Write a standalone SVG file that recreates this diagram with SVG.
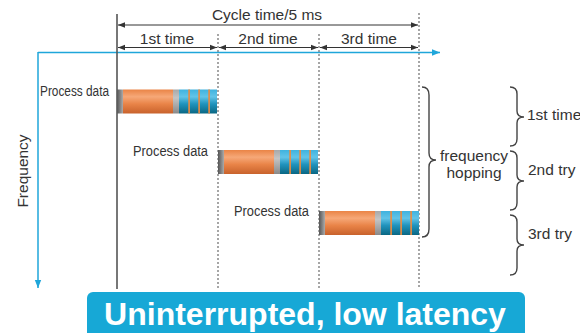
<svg xmlns="http://www.w3.org/2000/svg" width="580" height="333" viewBox="0 0 580 333">
<style>
text{font-family:"Liberation Sans",Arial,sans-serif;fill:#333;}
.lbl{font-size:15.5px;}
.pd{font-size:14px;}
.dot{stroke:#777;stroke-width:1.3;stroke-dasharray:2 2;fill:none;}
.dim{stroke:#333;stroke-width:1;fill:none;}
.axis{stroke:#1fa6da;stroke-width:1.5;fill:none;}
.brace{stroke:#444;stroke-width:1.4;fill:none;}
.stripe{fill:#f08a3c;}
</style>
<defs>
<linearGradient id="gOr" x1="0" y1="0" x2="0" y2="1">
<stop offset="0" stop-color="#ea8446"/><stop offset="0.3" stop-color="#f6a878"/><stop offset="0.6" stop-color="#e98448"/><stop offset="1" stop-color="#c8622c"/>
</linearGradient>
<linearGradient id="gBl" x1="0" y1="0" x2="0" y2="1">
<stop offset="0" stop-color="#3fb2de"/><stop offset="0.3" stop-color="#62c4e8"/><stop offset="0.6" stop-color="#2193bd"/><stop offset="1" stop-color="#0a6783"/>
</linearGradient>
<linearGradient id="gGr" x1="0" y1="0" x2="0" y2="1">
<stop offset="0" stop-color="#a8a8a8"/><stop offset="0.35" stop-color="#c4c4c4"/><stop offset="1" stop-color="#8a8a8a"/>
</linearGradient>
<linearGradient id="gGs" x1="0" y1="0" x2="1" y2="0">
<stop offset="0" stop-color="#555"/><stop offset="1" stop-color="#aaa"/>
</linearGradient>
<marker id="ah" viewBox="0 0 10 10" refX="10" refY="5" markerWidth="7" markerHeight="7" orient="auto-start-reverse" markerUnits="userSpaceOnUse">
<path d="M0,1 L10,5 L0,9 Z" fill="#333"/>
</marker>
<marker id="ab" viewBox="0 0 10 10" refX="10" refY="5" markerWidth="8" markerHeight="8" orient="auto" markerUnits="userSpaceOnUse">
<path d="M0,1 L10,5 L0,9 Z" fill="#1fa6da"/>
</marker>
<g id="bar">
<rect x="0" y="0" width="6" height="24" fill="url(#gGs)"/>
<rect x="6" y="0" width="50" height="24" fill="url(#gOr)"/>
<rect x="56" y="0" width="6" height="24" fill="url(#gGr)"/>
<rect x="62" y="0" width="38" height="24" fill="url(#gBl)"/>
<rect class="stripe" x="71.3" y="0" width="1.6" height="24"/>
<rect class="stripe" x="81.3" y="0" width="1.6" height="24"/>
<rect class="stripe" x="91.3" y="0" width="1.6" height="24"/>
</g>
</defs>
<rect width="580" height="333" fill="#fff"/>

<g id="connectors">
<line class="axis" x1="38" y1="52.5" x2="440" y2="52.5" marker-end="url(#ab)"/>
<line class="axis" x1="38" y1="52" x2="38" y2="288" marker-end="url(#ab)"/>
<line x1="117" y1="14" x2="117" y2="289" stroke="#555" stroke-width="1.6"/>
<line class="dot" x1="218" y1="34" x2="218" y2="289"/>
<line class="dot" x1="319" y1="34" x2="319" y2="289"/>
<line class="dot" x1="419" y1="13" x2="419" y2="289"/>
<line class="dim" x1="118" y1="25" x2="418" y2="25" marker-start="url(#ah)" marker-end="url(#ah)"/>
<line class="dim" x1="118" y1="47.5" x2="217" y2="47.5" marker-start="url(#ah)" marker-end="url(#ah)"/>
<line class="dim" x1="219" y1="47.5" x2="318" y2="47.5" marker-start="url(#ah)" marker-end="url(#ah)"/>
<line class="dim" x1="320" y1="47.5" x2="418" y2="47.5" marker-start="url(#ah)" marker-end="url(#ah)"/>
<path class="brace" d="M422,87 Q429,87 429,95 L429,153 Q429,160 436,160 Q429,160 429,167 L429,229 Q429,237 422,237"/>
<path class="brace" d="M510,87 Q517,87 517,94 L517,111 Q517,117 524,117 Q517,117 517,123 L517,139 Q517,146 510,146"/>
<path class="brace" d="M510,151 Q517,151 517,158 L517,175 Q517,181 524,181 Q517,181 517,187 L517,203 Q517,210 510,210"/>
<path class="brace" d="M510,215 Q517,215 517,222 L517,239 Q517,245 524,245 Q517,245 517,251 L517,268 Q517,275 510,275"/>
</g>

<g id="labels">
<text class="lbl" x="267" y="20" text-anchor="middle">Cycle time/5 ms</text>
<text class="lbl" x="167" y="44" text-anchor="middle">1st time</text>
<text class="lbl" x="268" y="44" text-anchor="middle">2nd time</text>
<text class="lbl" x="369" y="44" text-anchor="middle">3rd time</text>
<text class="lbl" transform="translate(28,171) rotate(-90)" text-anchor="middle">Frequency</text>
</g>

<g id="packet1">
<text class="pd" x="40" y="96" textLength="69" lengthAdjust="spacingAndGlyphs">Process data</text>
<use href="#bar" x="117" y="89.5"/>
</g>
<g id="packet2">
<text class="pd" x="133" y="156" textLength="75" lengthAdjust="spacingAndGlyphs">Process data</text>
<use href="#bar" x="218" y="150"/>
</g>
<g id="packet3">
<text class="pd" x="234" y="216" textLength="75" lengthAdjust="spacingAndGlyphs">Process data</text>
<use href="#bar" x="319" y="211"/>
</g>

<g id="hopping">
<text class="lbl" x="474" y="161" text-anchor="middle">frequency</text>
<text class="lbl" x="474" y="178" text-anchor="middle">hopping</text>
</g>
<g id="tries">
<text class="lbl" x="527" y="120">1st time</text>
<text class="lbl" x="528" y="175">2nd try</text>
<text class="lbl" x="528" y="239">3rd try</text>
</g>

<g id="banner">
<rect x="87" y="292" width="438" height="52" rx="6" fill="#17a8d6"/>
<text x="305" y="325" text-anchor="middle" style="font-size:32px;font-weight:bold;fill:#fff;">Uninterrupted, low latency</text>
</g>
</svg>
